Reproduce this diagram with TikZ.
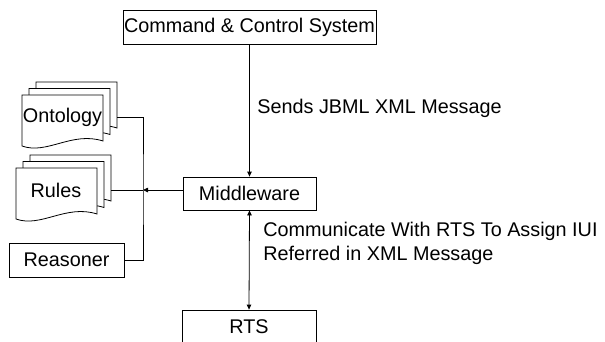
\documentclass[tikz,border=0pt]{standalone}
\usepackage{fontspec}
\setmainfont{Liberation Sans}
\usetikzlibrary{arrows.meta}
\begin{document}
\begin{tikzpicture}[x=1pt,y=-1pt,
  line width=0.8pt,
  every node/.style={font=\fontsize{19.8}{23.5}\selectfont},
  box/.style={draw, fill=white, inner sep=0pt, minimum height=34pt},
  lbl/.style={inner sep=0pt},
  tip/.style={-{Triangle[length=5pt,width=4.5pt]}},
  doctip/.style={{Triangle[length=5pt,width=4.5pt]}-{Triangle[length=5pt,width=4.5pt]}},
  docstack/.pic={
    \foreach \k in {2,1,0} {
      \filldraw[fill=white, shift={(7*\k,-6.5*\k)}]
        (0,0) -- (81,0) -- (81,46) .. controls (50,36) and (25,60) .. (0,51) -- cycle;
    }
    \coordinate (-east) at (95,22);
  }]
\useasboundingbox (0,0) rectangle (605,341);

% main boxes
\node[box, minimum width=253pt] (cc) at (249.5,27) {Command \& Control System};
\node[box, minimum width=133pt, minimum height=33pt] (mw) at (249.5,193.5) {Middleware};
\node[box, minimum width=134pt] (rts) at (249,327) {RTS};
\node[box, minimum width=115pt] (reas) at (66.5,260) {Reasoner};

% document stacks
\pic (onto) at (22,95) {docstack};
\node[lbl, anchor=base] (ontotext) at (62.5,122) {Ontology};
\pic (rules) at (16,168) {docstack};
\node[lbl, anchor=base] (rulestext) at (56,197) {Rules};

% bus
\coordinate (bus) at (143,190);
\draw (onto-east) -| (bus) |- (reas.east);
\draw (rules-east |- bus) -- (bus);
\draw[tip] (mw.west |- bus) -- (bus);

% vertical connectors
\draw[tip] (cc.south) -- (mw.north);
\draw[doctip] (mw.south) -- (rts.north);

% labels
\node[lbl, anchor=base west] (l1) at (257,113.5) {Sends JBML XML Message};
\node[lbl, anchor=base west] (l2) at (263,236.5) {Communicate With RTS To Assign IUI};
\node[lbl, anchor=base west] (l3) at (263,260) {Referred in XML Message};
\end{tikzpicture}
\end{document}
